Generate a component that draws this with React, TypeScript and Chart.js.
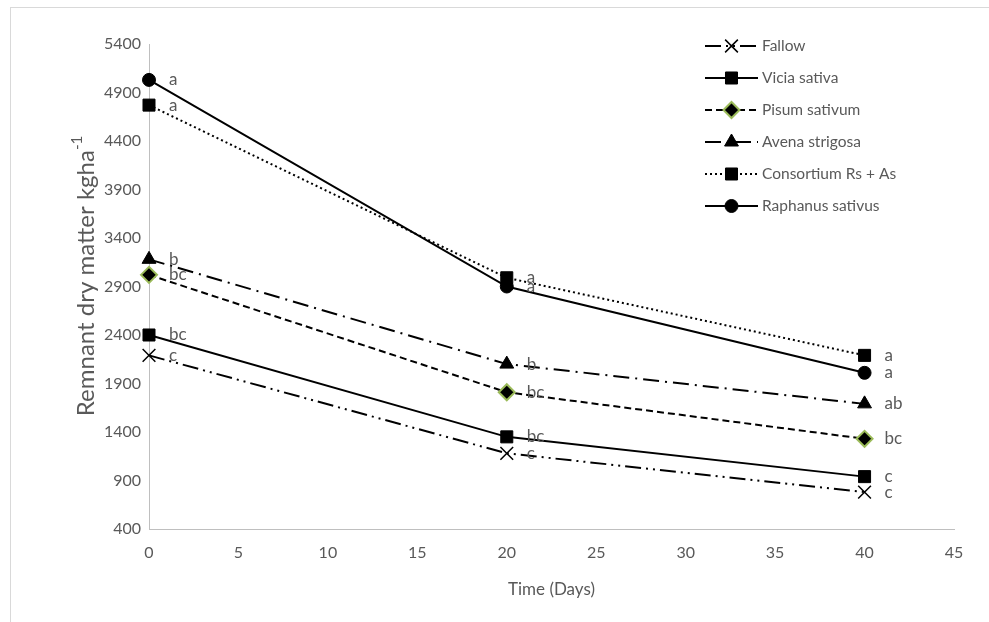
import React, { useEffect, useRef } from 'react';
import { Chart, registerables } from 'chart.js';
import { drawPoint } from 'chart.js/helpers';

Chart.register(...registerables);

// ---------------- data ----------------
const days = [0, 20, 40];
const seriesNames = [
  'Fallow',
  'Vicia sativa',
  'Pisum sativum',
  'Avena strigosa',
  'Consortium Rs + As',
  'Raphanus sativus',
];
const fallow = [2190, 1180, 780];
const vicia = [2400, 1350, 940];
const pisum = [3020, 1810, 1330];
const avena = [3180, 2100, 1690];
const consortium = [4770, 2990, 2190];
const raphanus = [5030, 2900, 2010];

const fallowLetters = ['c', 'c', 'c'];
const viciaLetters = ['bc', 'bc', 'c'];
const pisumLetters = ['bc', 'bc', 'bc'];
const avenaLetters = ['b', 'b', 'ab'];
const consortiumLetters = ['a', 'a', 'a'];
const raphanusLetters = ['a', 'a', 'a'];

const yTickValues = [400, 900, 1400, 1900, 2400, 2900, 3400, 3900, 4400, 4900, 5400];
const xTickValues = [0, 5, 10, 15, 20, 25, 30, 35, 40, 45];

const xTitle = 'Time (Days)';
const yTitleMain = 'Remnant dry matter kgha';
const yTitleSup = '-1';

// ---------------- styles ----------------
const FONT = 'Lato, "Open Sans", sans-serif';
const TEXT = '#595959';
const AXIS = '#BFBFBF';

const seriesValues = [fallow, vicia, pisum, avena, consortium, raphanus];
const seriesLetters = [fallowLetters, viciaLetters, pisumLetters, avenaLetters, consortiumLetters, raphanusLetters];
const seriesStyles = [
  { borderDash: [16, 5, 2, 5, 2, 5], pointStyle: 'crossRot', pointRadius: 9, pointBorderWidth: 1.5, pointBackgroundColor: '#000', pointBorderColor: '#000' },
  { borderDash: [], pointStyle: 'rect', pointRadius: 8.5, pointBorderWidth: 1, pointBackgroundColor: '#000', pointBorderColor: '#000' },
  { borderDash: [7, 4], pointStyle: 'rectRot', pointRadius: 8, pointBorderWidth: 2, pointBackgroundColor: '#000', pointBorderColor: '#9BBB59' },
  { borderDash: [16, 6, 2, 6], pointStyle: 'triangle', pointRadius: 8, pointBorderWidth: 1, pointBackgroundColor: '#000', pointBorderColor: '#000' },
  { borderDash: [2, 3], pointStyle: 'rect', pointRadius: 8.5, pointBorderWidth: 1, pointBackgroundColor: '#000', pointBorderColor: '#000' },
  { borderDash: [], pointStyle: 'circle', pointRadius: 6.5, pointBorderWidth: 1, pointBackgroundColor: '#000', pointBorderColor: '#000' },
];

const legendPlugin = {
  id: 'lineLegend',
  afterDraw(chart: any) {
    const ctx = chart.ctx;
    const x0 = 705, x1 = 758, tx = 762, y0 = 46, dy = 32;
    chart.data.datasets.forEach((ds: any, i: number) => {
      const y = y0 + i * dy;
      ctx.save();
      ctx.strokeStyle = ds.borderColor;
      ctx.lineWidth = ds.borderWidth;
      ctx.setLineDash(ds.borderDash || []);
      ctx.beginPath();
      ctx.moveTo(x0, y);
      ctx.lineTo(x1, y);
      ctx.stroke();
      ctx.setLineDash([]);
      ctx.fillStyle = ds.pointBackgroundColor;
      ctx.strokeStyle = ds.pointBorderColor;
      ctx.lineWidth = ds.pointBorderWidth;
      drawPoint(ctx, { pointStyle: ds.pointStyle, radius: ds.pointRadius, rotation: 0, borderWidth: ds.pointBorderWidth } as any, (x0 + x1) / 2, y);
      ctx.fillStyle = TEXT;
      ctx.font = `15.5px ${FONT}`;
      ctx.textBaseline = 'middle';
      ctx.textAlign = 'left';
      ctx.fillText(ds.label, tx, y);
      ctx.restore();
    });
  },
};

const lettersPlugin = {
  id: 'pointLetters',
  afterDatasetsDraw(chart: any) {
    const ctx = chart.ctx;
    ctx.save();
    ctx.fillStyle = TEXT;
    ctx.font = `17px ${FONT}`;
    ctx.textBaseline = 'middle';
    ctx.textAlign = 'left';
    chart.data.datasets.forEach((ds: any, i: number) => {
      const meta = chart.getDatasetMeta(i);
      meta.data.forEach((pt: any, j: number) => {
        ctx.fillText(seriesLetters[i][j], pt.x + 20, pt.y);
      });
    });
    ctx.restore();
  },
};

const yTitlePlugin = {
  id: 'yTitle',
  afterDraw(chart: any) {
    const ctx = chart.ctx;
    ctx.save();
    ctx.translate(86, 276);
    ctx.rotate(-Math.PI / 2);
    ctx.fillStyle = TEXT;
    ctx.textBaseline = 'middle';
    ctx.textAlign = 'left';
    ctx.font = `24px ${FONT}`;
    const w1 = ctx.measureText(yTitleMain).width;
    ctx.font = `15px ${FONT}`;
    const w2 = ctx.measureText(yTitleSup).width;
    const start = -(w1 + w2) / 2;
    ctx.font = `24px ${FONT}`;
    ctx.fillText(yTitleMain, start, 0);
    ctx.font = `15px ${FONT}`;
    ctx.fillText(yTitleSup, start + w1, -9);
    ctx.restore();
  },
};

export default function App() {
  const ref = useRef<HTMLCanvasElement | null>(null);

  useEffect(() => {
    document.body.style.margin = '0';
    if (!ref.current) return;
    const datasets = seriesNames.map((name, i) => ({
      label: name,
      data: days.map((d, j) => ({ x: d, y: seriesValues[i][j] })),
      borderColor: '#000',
      borderWidth: 2,
      tension: 0,
      clip: false as any,
      ...seriesStyles[i],
    }));
    const chart = new Chart(ref.current, {
      type: 'line',
      data: { datasets: datasets as any },
      options: {
        animation: false,
        responsive: true,
        maintainAspectRatio: false,
        layout: { padding: { left: 0, right: 35, top: 44, bottom: 0 } },
        plugins: { legend: { display: false }, tooltip: { enabled: false } },
        scales: {
          x: {
            type: 'linear',
            min: 0,
            max: 45,
            afterBuildTicks: (s: any) => { s.ticks = xTickValues.map((v) => ({ value: v })); },
            afterFit: (s: any) => { s.height = 93; },
            grid: { display: false, drawTicks: false },
            border: { display: true, color: AXIS, width: 1 },
            ticks: { color: TEXT, font: { family: FONT, size: 16 }, padding: 14, maxRotation: 0, callback: (v: any) => String(v) },
            title: { display: true, text: xTitle, color: TEXT, font: { family: FONT, size: 17 }, padding: { top: 4, bottom: 22 } },
          },
          y: {
            type: 'linear',
            min: 400,
            max: 5400,
            afterBuildTicks: (s: any) => { s.ticks = yTickValues.map((v) => ({ value: v })); },
            afterFit: (s: any) => { s.width = 149; },
            grid: { display: false, drawTicks: false },
            border: { display: true, color: AXIS, width: 1 },
            ticks: { color: TEXT, font: { family: FONT, size: 16 }, padding: 8, callback: (v: any) => String(v) },
          },
        },
      },
      plugins: [legendPlugin, lettersPlugin, yTitlePlugin],
    });
    return () => chart.destroy();
  }, []);

  return (
    <div style={{ position: 'relative', width: 989, height: 622, background: '#fff' }}>
      <div
        style={{
          position: 'absolute',
          left: 10,
          top: 7,
          right: 0,
          bottom: 0,
          borderTop: '1px solid #D9D9D9',
          borderLeft: '1px solid #D9D9D9',
        }}
      />
      <canvas ref={ref} style={{ position: 'absolute', left: 0, top: 0, width: 989, height: 622 }} />
    </div>
  );
}
